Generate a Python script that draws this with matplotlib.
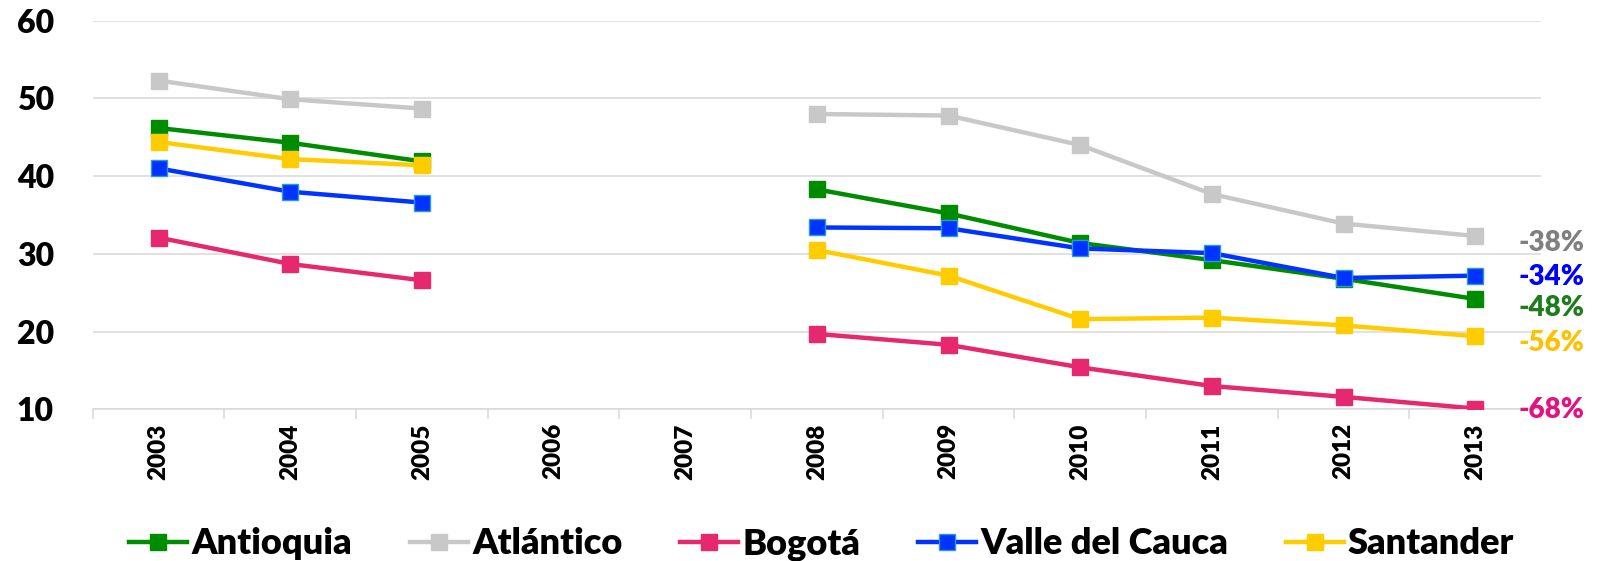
import numpy as np
import matplotlib.pyplot as plt
from matplotlib import font_manager
from matplotlib.lines import Line2D

years = ["2003", "2004", "2005", "2006", "2007", "2008", "2009", "2010", "2011", "2012", "2013"]
nan = np.nan

antioquia = [46.2, 44.3, 41.9, nan, nan, 38.3, 35.2, 31.4, 29.2, 26.8, 24.2]
atlantico = [52.3, 49.9, 48.7, nan, nan, 48.0, 47.8, 44.0, 37.7, 33.9, 32.3]
bogota = [32.1, 28.7, 26.6, nan, nan, 19.7, 18.3, 15.4, 13.0, 11.6, 10.1]
valle = [41.0, 38.0, 36.6, nan, nan, 33.4, 33.3, 30.7, 30.1, 26.9, 27.2]
santander = [44.4, 42.2, 41.4, nan, nan, 30.5, 27.2, 21.6, 21.8, 20.8, 19.4]

series_names = ["Antioquia", "Atlántico", "Bogotá", "Valle del Cauca", "Santander"]
changes = ["-48%", "-38%", "-68%", "-34%", "-56%"]

available = {f.name for f in font_manager.fontManager.ttflist}
font = "Lato" if "Lato" in available else "DejaVu Sans"
plt.rcParams["font.family"] = [font, "DejaVu Sans"]
W = "heavy"

line_colors = ["#008C00", "#C8C8C8", "#E6286E", "#0033FF", "#FFCC00"]
edge_colors = ["#008C00", "#C8C8C8", "#E6286E", "#2A9BD6", "#FFCC00"]
label_colors = ["#1E7B1E", "#808080", "#E0137F", "#0000FF", "#FFC000"]
label_dy = [-6.5, -5, -1, -1, -5]  # vertical nudge of the end labels, points
data = [antioquia, atlantico, bogota, valle, santander]

fig = plt.figure(figsize=(16.02, 5.61), dpi=100)
ax = fig.add_axes([0.0579, 0.2704, 0.9041, 0.6926])

x = np.arange(len(years))
handles = []
for vals, c, ec, name in zip(data, line_colors, edge_colors, series_names):
    ax.plot(x, vals, color=c, lw=3.2, marker="s", markersize=11.5,
            markerfacecolor=c, markeredgecolor=ec, markeredgewidth=1.0, zorder=3)
    handles.append(Line2D([], [], color=c, lw=3.2, marker="s", markersize=11.5,
                          markerfacecolor=c, markeredgecolor=ec, markeredgewidth=1.0,
                          label=name))

# percent change labels at the right end
for vals, txt, lc, dy in zip(data, changes, label_colors, label_dy):
    ax.annotate(txt, xy=(x[-1], vals[-1]), xytext=(31, dy), textcoords="offset points",
                ha="left", va="center", fontsize=20, fontweight=W, color=lc,
                annotation_clip=False)

ax.set_xlim(-0.5, 10.5)
ax.set_ylim(10, 60)
ax.set_yticks([10, 20, 30, 40, 50, 60])
ax.yaxis.grid(True, color="#D9D9D9", lw=1.1)
ax.set_axisbelow(True)
for s in ["left", "right", "top"]:
    ax.spines[s].set_visible(False)
ax.spines["bottom"].set_color("#D9D9D9")
ax.spines["bottom"].set_linewidth(1.1)

ax.set_xticks(x)
ax.set_xticklabels(years, rotation=90, fontsize=17.5, fontweight=W)
ax.set_xticks(np.arange(-0.5, 11, 1), minor=True)
ax.tick_params(axis="x", which="major", length=0, pad=10)
ax.tick_params(axis="x", which="minor", length=7, color="#D9D9D9", width=1.1)
ax.tick_params(axis="y", length=0, labelsize=23, pad=28)
for t in ax.get_yticklabels():
    t.set_fontweight(W)

fig.legend(handles=handles, loc="center", bbox_to_anchor=(0.513, 0.03), ncol=5,
           frameon=False, handlelength=1.6, handletextpad=0.12,
           columnspacing=1.6, prop={"weight": W, "size": 26})

fig.savefig("out.png", dpi=100)
